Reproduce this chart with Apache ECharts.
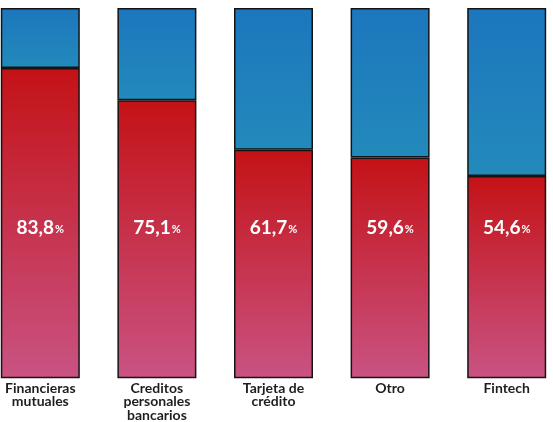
<!DOCTYPE html>
<html>
<head>
<meta charset="utf-8">
<script src="https://cdn.jsdelivr.net/npm/echarts@6/dist/echarts.min.js"></script>
<style>
html,body{margin:0;padding:0;background:#fff;overflow:hidden;width:553px;height:422px;}
#chart{position:absolute;left:-18px;top:0;width:583px;height:422px;}
</style>
</head>
<body>
<div id="chart"></div>
<script>
const categories = ['Financieras\nmutuales', 'Creditos\npersonales\nbancarios', 'Tarjeta de\ncrédito', 'Otro', 'Fintech'];
const redValues = [83.8, 75.1, 61.7, 59.6, 54.6];
const blueValues = [16.2, 24.9, 38.3, 40.4, 45.4];
const labelTexts = ['83,8', '75,1', '61,7', '59,6', '54,6'];

const GRID_TOP = 8, GRID_BOTTOM = 43, H = 422;
const gridH = H - GRID_TOP - GRID_BOTTOM;
const LABEL_Y = 228;

const chart = echarts.init(document.getElementById('chart'), null, {renderer: 'canvas'});

const redGrad = new echarts.graphic.LinearGradient(0, 0, 0, 1, [
  {offset: 0, color: '#c41216'},
  {offset: 1, color: '#c95383'}
]);
const blueGrad = new echarts.graphic.LinearGradient(0, 0, 0, 1, [
  {offset: 0, color: '#1c76bd'},
  {offset: 1, color: '#238abb'}
]);

const redData = redValues.map((v, i) => {
  const barTop = GRID_TOP + (1 - v / 100) * gridH;
  return {
    value: v,
    label: {
      position: ['50%', LABEL_Y - barTop],
      formatter: () => '{v|' + labelTexts[i] + '}{p|%}'
    }
  };
});

chart.setOption({
  animation: false,
  grid: {left: 0, right: 0, top: GRID_TOP, bottom: GRID_BOTTOM, containLabel: false},
  xAxis: {
    type: 'category',
    data: categories,
    axisLine: {show: false},
    axisTick: {show: false},
    axisLabel: {
      interval: 0,
      margin: 3,
      color: '#1e1e1e',
      fontFamily: 'Lato',
      fontSize: 14,
      fontWeight: 'bold',
      lineHeight: 13.5
    }
  },
  yAxis: {type: 'value', min: 0, max: 100, show: false},
  series: [
    {
      type: 'bar',
      stack: 'total',
      barWidth: 79,
      data: redData,
      itemStyle: {color: redGrad, borderColor: '#141414', borderWidth: 1.5},
      label: {
        show: true,
        align: 'center',
        verticalAlign: 'middle',
        color: '#ffffff',
        rich: {
          v: {fontFamily: 'Lato', fontSize: 19, fontWeight: 'bold', color: '#fff'},
          p: {fontFamily: 'Lato', fontSize: 11, fontWeight: 'bold', color: '#fff', padding: [3, 0, 0, 1]}
        }
      }
    },
    {
      type: 'bar',
      stack: 'total',
      barWidth: 79,
      data: blueValues,
      itemStyle: {color: blueGrad, borderColor: '#141414', borderWidth: 1.5}
    }
  ]
});
</script>
</body>
</html>
